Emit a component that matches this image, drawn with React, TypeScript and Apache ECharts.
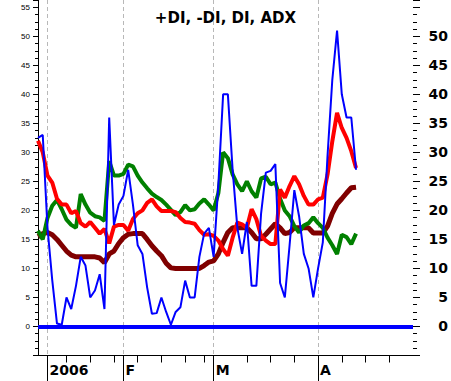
import React, { useEffect, useRef } from "react";
import * as echarts from "echarts";

// category slots (trading days) along the x axis
const dayCount = 80;
const days: string[] = Array.from({ length: dayCount }, (_, i) => String(i));

const monthTickIdx = [2, 18, 37, 59];
const monthLabels = ["2006", "F", "M", "A"];
const weekTickIdx = [6, 11, 16, 21, 26, 31, 35, 44, 49, 54, 64, 69, 74];

const leftTickLabels = [0, 5, 10, 15, 20, 25, 30, 35, 40, 45, 50, 55];
const rightTickLabels = [0, 5, 10, 15, 20, 25, 30, 35, 40, 45, 50];

// DI (blue)
const diValues = [
  32.5, 33, 17, 8, 0.5, 0.3, 5, 3, 7, 12,
  10.5, 5, 6.2, 9, 3, 36, 17.5, 21, 22.5, 27,
  21, 14, 12.5, 6.7, 2.2, 2.3, 5, 2.5, 0.3, 2.5,
  3.3, 7.9, 5, 5, 12, 16, 17, 12, 24.5, 40,
  40, 27, 17, 12.5, 18, 7, 7, 19.5, 26.5, 26.8,
  28, 7.5, 5, 14, 23.5, 19, 12.5, 10, 5, 10,
  14.5, 29.5, 42.5, 51, 40, 36, 36, 27,
];

// -DI (red)
const minusDiValues = [
  32, 30, 26, 24.8, 22, 21, 21, 19.5, 19.9, 17.8,
  17.2, 18, 17, 16, 16.8, 14.3, 17.2, 17.5, 17.5, 16.5,
  18.5, 19.5, 20, 21.3, 21.9, 20.7, 19.9, 19.9, 19.9, 19.7,
  18.7, 18, 17.9, 17.7, 16.6, 15.8, 15.9, 15.6, 14.8, 13.3,
  12.2, 15.3, 17.9, 17.6, 17, 20.2, 18.5, 15.6, 14.8, 14.2,
  14.2, 23.6, 22.2, 24.2, 25.9, 24.5, 22.5, 21, 21, 21.9,
  22.2, 26.2, 31.9, 36.8, 34.2, 32.5, 30.2, 27.3,
];

// +DI (green)
const plusDiValues = [
  16.5, 15, 18.7, 20.8, 21.8, 20.2, 18.4, 17.5, 17, 22.8,
  21, 19.6, 19, 18.8, 18.2, 28.5, 26, 26, 26.3, 27.9,
  27.6, 26, 24.8, 23.8, 22.9, 22.3, 21.8, 21, 20.1, 19.2,
  19.7, 20.9, 20, 20.2, 21.2, 21.9, 21, 20, 23, 30,
  29, 26.2, 24.5, 23.3, 25, 23.3, 22.2, 25.5, 25.8, 24.5,
  24.8, 22, 20, 19, 17.3, 16.2, 17.4, 17.8, 18.8, 17.8,
  17, 15.3, 14, 12.5, 15.8, 15.4, 14.2, 16,
];

// ADX (maroon)
const adxValues = [
  15.5, 16, 16.2, 15.8, 15, 14, 13, 12.3, 12, 12,
  12, 12, 12, 11.8, 11, 12.5, 13, 14.3, 15.3, 15.9,
  16, 16, 16, 15, 13.9, 13, 12.2, 10.9, 10.1, 10,
  10, 10, 10, 10, 10, 10.5, 11.1, 11.3, 12.5, 14.5,
  16.2, 17, 17, 17, 17, 16.2, 15.1, 15.1, 15.9, 16.8,
  17.7, 17, 16, 16.2, 17, 17, 17, 17, 16.1, 16.1,
  16.1, 17.3, 19.5, 21.1, 22, 23, 23.9, 24,
];

const Y_MIN = -5;
const Y_MAX = 56.25;

const isMonth = (i: number) => monthTickIdx.includes(i);
const isWeekOrMonth = (i: number) => weekTickIdx.includes(i) || monthTickIdx.includes(i);

function buildOption(): any {
  const smallFont = "Liberation Sans, Arial, sans-serif";
  const boldFont = "DejaVu Sans, Verdana, sans-serif";
  const baseY = {
    type: "value",
    min: Y_MIN,
    max: Y_MAX,
    splitLine: { show: false },
    axisLine: { show: false, onZero: false },
  };
  const line = (name: string, data: number[], color: string, width: number, extra: any = {}) => ({
    name,
    type: "line",
    data,
    symbol: "none",
    showSymbol: false,
    xAxisIndex: 0,
    yAxisIndex: 0,
    lineStyle: { color, width },
    itemStyle: { color },
    silent: true,
    ...extra,
  });
  return {
    animation: false,
    backgroundColor: "#ffffff",
    title: {
      text: "+DI, -DI, DI, ADX",
      left: "center",
      top: 5,
      textStyle: { fontFamily: boldFont, fontSize: 15, fontWeight: "bold", color: "#000" },
    },
    grid: { left: 38, right: 37.5, top: 0, bottom: 25.5, containLabel: false },
    xAxis: [
      {
        type: "category",
        data: days,
        boundaryGap: false,
        axisLine: { show: true, onZero: false, lineStyle: { color: "#000", width: 1 } },
        axisTick: {
          show: true,
          length: 7,
          interval: (i: number) => isWeekOrMonth(i),
          lineStyle: { color: "#000", width: 1 },
        },
        axisLabel: { show: false },
        splitLine: { show: false },
      },
      {
        type: "category",
        data: days,
        boundaryGap: false,
        position: "bottom",
        axisLine: { show: false, onZero: false },
        axisTick: {
          show: true,
          length: 26,
          interval: (i: number) => isMonth(i),
          lineStyle: { color: "#000", width: 1 },
        },
        axisLabel: {
          show: true,
          interval: (i: number) => isMonth(i),
          formatter: (v: string) => {
            const k = monthTickIdx.indexOf(Number(v));
            return k >= 0 ? monthLabels[k] : "";
          },
          align: "left",
          padding: [0, 0, 0, 2],
          margin: 7,
          fontFamily: boldFont,
          fontSize: 14,
          fontWeight: "bold",
          color: "#000",
        },
        splitLine: {
          show: true,
          interval: (i: number) => isMonth(i),
          lineStyle: { color: "#b8b8b8", width: 1, type: [4, 3] },
        },
      },
    ],
    yAxis: [
      {
        ...baseY,
        position: "left",
        interval: 1.25,
        axisLine: { show: true, onZero: false, lineStyle: { color: "#000", width: 1 } },
        axisTick: { show: true, length: 3, lineStyle: { color: "#000" } },
        axisLabel: { show: false },
      },
      {
        ...baseY,
        position: "left",
        interval: 5,
        axisTick: { show: true, length: 5, lineStyle: { color: "#000" } },
        axisLabel: {
          show: true,
          margin: 8,
          fontFamily: smallFont,
          fontSize: 8,
          color: "#000",
          formatter: (v: number) => (leftTickLabels.includes(v) ? String(v) : ""),
        },
      },
      {
        ...baseY,
        position: "right",
        interval: 1.25,
        axisTick: { show: true, length: 4, lineStyle: { color: "#000" } },
        axisLabel: { show: false },
      },
      {
        ...baseY,
        position: "right",
        interval: 5,
        axisTick: { show: true, length: 7, lineStyle: { color: "#000" } },
        axisLabel: {
          show: true,
          align: "right",
          margin: 35,
          fontFamily: boldFont,
          fontSize: 14,
          fontWeight: "bold",
          color: "#000",
          formatter: (v: number) => (rightTickLabels.includes(v) ? String(v) : ""),
        },
      },
    ],
    series: [
      line("ADX", adxValues, "#800000", 5),
      line("+DI", plusDiValues, "#008000", 4),
      line("-DI", minusDiValues, "#ff0000", 4),
      line("DI", diValues, "#0000ff", 2, {
        markLine: {
          silent: true,
          symbol: ["none", "none"],
          label: { show: false },
          lineStyle: { color: "#0000ff", width: 4, type: "solid" },
          data: [{ yAxis: 0 }],
        },
      }),
    ],
  };
}

export default function App() {
  const ref = useRef<HTMLDivElement>(null);
  useEffect(() => {
    if (!ref.current) return;
    const chart = echarts.init(ref.current, null, { renderer: "svg" });
    chart.setOption(buildOption());
    return () => chart.dispose();
  }, []);
  return (
    <div
      ref={ref}
      style={{ position: "fixed", left: 0, top: 0, width: 451, height: 381, background: "#fff" }}
    />
  );
}
